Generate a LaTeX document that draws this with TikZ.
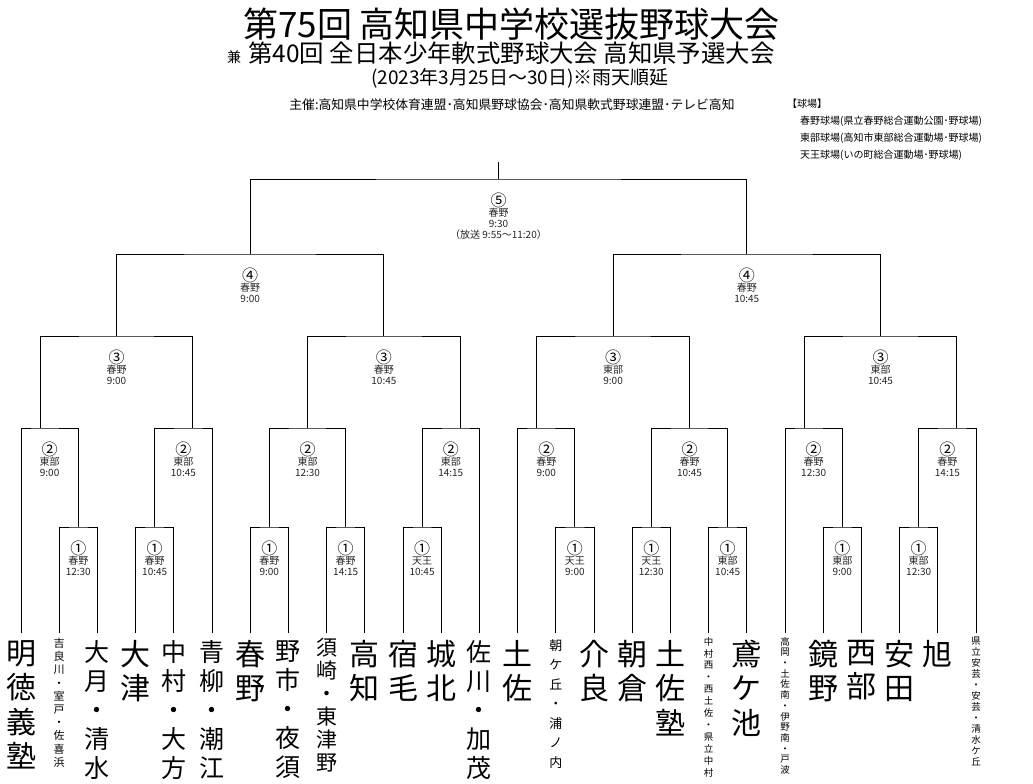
\documentclass[tikz,border=0pt]{standalone}
\usepackage{fontspec}
\setmainfont{Noto Sans CJK JP}
\newcommand\myfs[2]{\fontsize{#1}{#2}\selectfont}
\tikzset{
  br/.style={draw=black, line width=1pt},
  cnum/.style={inner sep=0pt, font=\myfs{16}{16}},
  mtxt/.style={inner sep=0pt, font=\myfs{10}{11}, text=black!85},
  tname/.style={anchor=north, inner sep=0pt, align=center},
  tA/.style={tname, font=\myfs{30}{34.5}},
  tB/.style={tname, font=\myfs{25}{29}},
  tC/.style={tname, font=\myfs{21}{23}},
  hdr/.style={inner sep=0pt},
}
\newcommand\mlab[6]{%
  \node[cnum] (#1n) at (#2,#3+21) {#4};
  \node[mtxt] (#1v) at (#2,#3+34) {#5};
  \node[mtxt] (#1t) at (#2,#3+45) {#6};
}
\begin{document}
\begin{tikzpicture}[x=1pt,y=-1pt]
\fill[white] (0,0) rectangle (1033,784);
\useasboundingbox (0,0) rectangle (1033,784);

% header
\node[hdr, font=\myfs{35}{35}] (title) at (511.5,24) {第75回 高知県中学校選抜野球大会};
\node[hdr, font=\myfs{24.4}{25}] (sub) at (511.5,53) {第40回 全日本少年軟式野球大会 高知県予選大会};
\node[hdr, font=\myfs{14}{14}] (ken) at (234,57) {兼};
\node[hdr, font=\myfs{19}{19}] (date) at (520,78) {(2023年3月25日～30日)※雨天順延};
\node[hdr, font=\myfs{12.8}{13}] (org) at (512,105) {主催:高知県中学校体育連盟･高知県野球協会･高知県軟式野球連盟･テレビ高知};
\node[hdr, anchor=west, font=\myfs{10}{10}] (vh) at (787,104) {【球場】};
\node[hdr, anchor=west, font=\myfs{10}{10}] (v1) at (800,121) {春野球場(県立春野総合運動公園･野球場)};
\node[hdr, anchor=west, font=\myfs{10}{10}] (v2) at (800,138) {東部球場(高知市東部総合運動場･野球場)};
\node[hdr, anchor=west, font=\myfs{10}{10}] (v3) at (800,155) {天王球場(いの町総合運動場･野球場)};

% leaf tops
\foreach \i in {0,...,25} \coordinate (l\i) at ({21+38.2*\i},633);

% match points
\coordinate (A1) at (78.3,527);
\coordinate (A2) at (154.7,527);
\coordinate (A3) at (269.3,527);
\coordinate (A4) at (345.7,527);
\coordinate (A5) at (422.1,527);
\coordinate (A6) at (574.9,527);
\coordinate (A7) at (651.3,527);
\coordinate (A8) at (727.7,527);
\coordinate (A9) at (842.3,527);
\coordinate (A10) at (918.7,527);
\coordinate (B1) at (40.1,428);
\coordinate (B2) at (192.9,428);
\coordinate (B3) at (307.5,428);
\coordinate (B4) at (460.3,428);
\coordinate (B5) at (536.7,428);
\coordinate (B6) at (689.5,428);
\coordinate (B7) at (804.1,428);
\coordinate (B8) at (956.9,428);
\coordinate (C1) at (116.5,336);
\coordinate (C2) at (383.9,336);
\coordinate (C3) at (613.1,336);
\coordinate (C4) at (880.5,336);
\coordinate (D1) at (250.2,254);
\coordinate (D2) at (746.8,254);
\coordinate (E) at (498.5,179);
\coordinate (top) at (498.5,162);

% brackets
\draw[br] (l1) |- (A1) -| (l2);
\draw[br] (l3) |- (A2) -| (l4);
\draw[br] (l6) |- (A3) -| (l7);
\draw[br] (l8) |- (A4) -| (l9);
\draw[br] (l10) |- (A5) -| (l11);
\draw[br] (l14) |- (A6) -| (l15);
\draw[br] (l16) |- (A7) -| (l17);
\draw[br] (l18) |- (A8) -| (l19);
\draw[br] (l21) |- (A9) -| (l22);
\draw[br] (l23) |- (A10) -| (l24);
\draw[br] (l0) |- (B1) -| (A1);
\draw[br] (A2) |- (B2) -| (l5);
\draw[br] (A3) |- (B3) -| (A4);
\draw[br] (A5) |- (B4) -| (l12);
\draw[br] (l13) |- (B5) -| (A6);
\draw[br] (A7) |- (B6) -| (A8);
\draw[br] (l20) |- (B7) -| (A9);
\draw[br] (A10) |- (B8) -| (l25);
\draw[br] (B1) |- (C1) -| (B2);
\draw[br] (B3) |- (C2) -| (B4);
\draw[br] (B5) |- (C3) -| (B6);
\draw[br] (B7) |- (C4) -| (B8);
\draw[br] (C1) |- (D1) -| (C2);
\draw[br] (C3) |- (D2) -| (C4);
\draw[br] (D1) |- (E) -| (D2);
\draw[br] (E) -- (top);

% match labels
\mlab{a1}{78.3}{527}{①}{春野}{12:30}
\mlab{a2}{154.7}{527}{①}{春野}{10:45}
\mlab{a3}{269.3}{527}{①}{春野}{9:00}
\mlab{a4}{345.7}{527}{①}{春野}{14:15}
\mlab{a5}{422.1}{527}{①}{天王}{10:45}
\mlab{a6}{574.9}{527}{①}{天王}{9:00}
\mlab{a7}{651.3}{527}{①}{天王}{12:30}
\mlab{a8}{727.7}{527}{①}{東部}{10:45}
\mlab{a9}{842.3}{527}{①}{東部}{9:00}
\mlab{a10}{918.7}{527}{①}{東部}{12:30}
\mlab{b1}{49.6}{428}{②}{東部}{9:00}
\mlab{b2}{183.4}{428}{②}{東部}{10:45}
\mlab{b3}{307.5}{428}{②}{東部}{12:30}
\mlab{b4}{450.8}{428}{②}{東部}{14:15}
\mlab{b5}{546.3}{428}{②}{春野}{9:00}
\mlab{b6}{689.5}{428}{②}{春野}{10:45}
\mlab{b7}{813.7}{428}{②}{春野}{12:30}
\mlab{b8}{947.4}{428}{②}{春野}{14:15}
\mlab{c1}{116.5}{336}{③}{春野}{9:00}
\mlab{c2}{383.9}{336}{③}{春野}{10:45}
\mlab{c3}{613.1}{336}{③}{東部}{9:00}
\mlab{c4}{880.5}{336}{③}{東部}{10:45}
\mlab{d1}{250.2}{254}{④}{春野}{9:00}
\mlab{d2}{746.8}{254}{④}{春野}{10:45}
\mlab{e}{498.5}{179}{⑤}{春野}{9:30}
\node[mtxt] (ex) at (498.5,235) {（放送 9:55～11:20）};

% teams
\node[tA] (t0) at ([yshift=-7pt]l0) {明\\徳\\義\\塾};
\node[tname, font=\myfs{11}{13.2}] (t1) at ([yshift=-5pt]l1) {吉\\良\\川\\・\\室\\戸\\・\\佐\\喜\\浜};
\node[tB] (t2) at ([yshift=-7pt]l2) {大\\月\\・\\清\\水};
\node[tA] (t3) at ([yshift=-7pt]l3) {大\\津};
\node[tB] (t4) at ([yshift=-7pt]l4) {中\\村\\・\\大\\方};
\node[tB] (t5) at ([yshift=-7pt]l5) {青\\柳\\・\\潮\\江};
\node[tA] (t6) at ([yshift=-7pt]l6) {春\\野};
\node[tB] (t7) at ([yshift=-7pt]l7) {野\\市\\・\\夜\\須};
\node[tC] (t8) at ([yshift=-5pt]l8) {須\\崎\\・\\東\\津\\野};
\node[tA] (t9) at ([yshift=-7pt]l9) {高\\知};
\node[tA] (t10) at ([yshift=-7pt]l10) {宿\\毛};
\node[tA] (t11) at ([yshift=-7pt]l11) {城\\北};
\node[tB] (t12) at ([yshift=-7pt]l12) {佐\\川\\・\\加\\茂};
\node[tA] (t13) at ([yshift=-7pt]l13) {土\\佐};
\node[tname, font=\myfs{13}{19.5}] (t14) at ([yshift=-6pt]l14) {朝\\ケ\\丘\\・\\浦\\ノ\\内};
\node[tA] (t15) at ([yshift=-7pt]l15) {介\\良};
\node[tA] (t16) at ([yshift=-7pt]l16) {朝\\倉};
\node[tA] (t17) at ([yshift=-7pt]l17) {土\\佐\\塾};
\node[tname, font=\myfs{9.5}{11.9}] (t18) at ([yshift=-4pt]l18) {中\\村\\西\\・\\西\\土\\佐\\・\\県\\立\\中\\村};
\node[tA] (t19) at ([yshift=-7pt]l19) {鳶\\ケ\\池};
\node[tname, font=\myfs{9.5}{10.7}] (t20) at ([yshift=-4pt]l20) {高\\岡\\・\\土\\佐\\南\\・\\伊\\野\\南\\・\\戸\\波};
\node[tA] (t21) at ([yshift=-7pt]l21) {鏡\\野};
\node[tA] (t22) at ([yshift=-7pt]l22) {西\\部};
\node[tA] (t23) at ([yshift=-7pt]l23) {安\\田};
\node[tA] (t24) at ([yshift=-7pt]l24) {旭};
\node[tname, font=\myfs{9.5}{11}] (t25) at ([yshift=-4pt]l25) {県\\立\\安\\芸\\・\\安\\芸\\・\\清\\水\\ケ\\丘};
\end{tikzpicture}
\end{document}
